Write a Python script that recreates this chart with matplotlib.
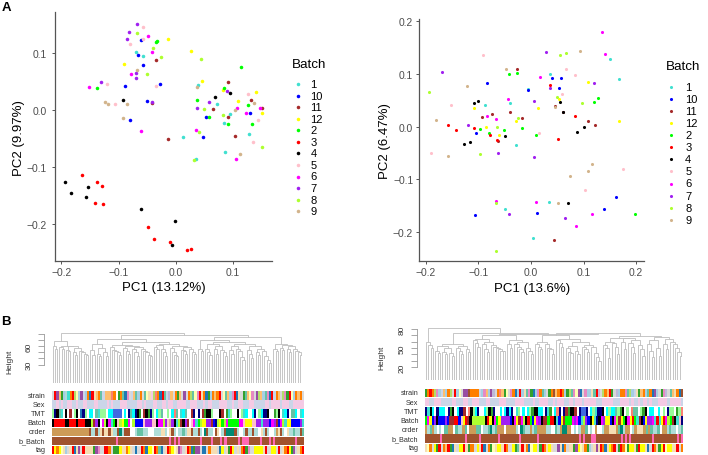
import matplotlib
matplotlib.use("Agg")
import matplotlib.pyplot as plt
from matplotlib.colors import ListedColormap

plt.rcParams["font.family"] = ["Liberation Sans", "DejaVu Sans"]

W, H = 708, 456

batches = ["1", "10", "11", "12", "2", "3", "4", "5", "6", "7", "8", "9"]
batch_colors = ["#40E0D0", "#0000FF", "#A52A2A", "#FFFF00", "#00FF00", "#FF0000",
                "#000000", "#FFC0CB", "#FF00FF", "#A020F0", "#ADFF2F", "#D2B48C"]

# PCA panel on the left, one list per batch
left_pc1 = [
    [-0.070, -0.057, 0.039, 0.072, 0.095, 0.085, 0.013, 0.128, 0.086, 0.035],
    [-0.066, -0.060, -0.058, -0.089, -0.027, -0.051, -0.080, 0.053, 0.048, 0.130],
    [-0.034, -0.041, 0.092, 0.132, 0.066, 0.092, 0.151, -0.013, 0.103],
    [-0.014, 0.026, -0.091, 0.046, 0.083, 0.140, 0.109, 0.151],
    [-0.035, -0.032, 0.115, -0.138, 0.085, 0.037, 0.126, 0.059, 0.092, 0.133],
    [-0.164, -0.138, -0.129, -0.142, -0.127, -0.049, -0.038, -0.010, 0.020, 0.026],
    [-0.193, -0.183, -0.154, -0.157, -0.061, -0.002, -0.007, -0.093, 0.069, 0.095],
    [-0.057, -0.080, -0.057, -0.121, -0.107, -0.035, 0.126, 0.144, 0.135],
    [-0.048, -0.041, -0.079, -0.152, -0.061, 0.035, 0.107, 0.123, 0.148, 0.106],
    [-0.067, -0.081, -0.086, -0.069, -0.070, -0.130, -0.041, 0.089, 0.059, 0.038],
    [-0.068, -0.039, -0.026, 0.045, -0.051, 0.050, 0.083, 0.040, 0.032, 0.151],
    [-0.068, -0.124, -0.119, -0.086, -0.093, 0.038, 0.103, 0.137, 0.113],
]
left_pc2 = [
    [0.102, 0.095, 0.044, 0.012, -0.006, -0.022, -0.046, -0.042, -0.073, -0.085],
    [0.098, 0.123, 0.080, 0.042, 0.046, 0.017, -0.016, -0.012, -0.046, -0.004],
    [0.089, 0.013, 0.049, 0.018, 0.003, -0.011, 0.004, -0.050, -0.045],
    [0.125, 0.105, 0.081, 0.051, 0.036, 0.032, 0.017, -0.005],
    [0.120, 0.121, 0.076, 0.039, 0.039, 0.019, 0.009, -0.012, -0.024, -0.023],
    [-0.114, -0.126, -0.132, -0.163, -0.164, -0.205, -0.225, -0.230, -0.244, -0.243],
    [-0.125, -0.145, -0.135, -0.152, -0.173, -0.194, -0.236, 0.018, 0.023, 0.030],
    [0.146, 0.117, 0.126, 0.047, 0.011, 0.042, 0.029, -0.016, -0.055],
    [0.130, 0.102, 0.064, 0.041, -0.036, -0.034, 0.004, -0.005, 0.004, -0.085],
    [0.152, 0.137, 0.126, 0.065, 0.057, 0.049, 0.015, 0.034, 0.015, 0.005],
    [0.135, 0.109, 0.093, 0.091, 0.064, 0.003, -0.008, -0.038, -0.087, -0.065],
    [0.070, 0.014, 0.011, 0.011, -0.013, 0.041, 0.000, 0.013, -0.077],
]

# PCA panel on the right
right_pc1 = [
    [0.036, 0.150, 0.168, -0.006, -0.088, -0.039, -0.028, 0.034, -0.049, 0.003],
    [-0.083, 0.040, 0.058, -0.006, 0.053, -0.104, -0.107, 0.012, 0.138, 0.161],
    [-0.026, -0.094, -0.075, -0.039, -0.018, 0.046, 0.061, 0.108, 0.121, -0.062, 0.044],
    [-0.108, 0.013, 0.108, 0.053, -0.029, -0.086, -0.060, 0.167],
    [-0.042, -0.027, 0.127, 0.120, -0.017, -0.051, -0.096, -0.079, 0.010, 0.197],
    [0.037, 0.084, -0.157, -0.143, -0.108, -0.077, -0.064, 0.052],
    [-0.109, -0.101, -0.128, -0.116, -0.049, 0.056, 0.061, 0.101, 0.088, 0.071],
    [-0.092, 0.067, 0.083, 0.059, -0.153, -0.190, 0.016, 0.176, 0.102],
    [0.136, 0.141, 0.018, -0.044, -0.084, -0.066, -0.067, 0.010, 0.117, 0.086],
    [-0.169, 0.028, 0.119, 0.037, 0.005, -0.120, -0.062, 0.005, -0.042, 0.065],
    [-0.193, 0.055, 0.067, 0.049, 0.098, -0.024, -0.065, -0.096, -0.067, -0.067],
    [-0.048, 0.093, -0.122, -0.181, -0.158, 0.046, 0.116, 0.109, 0.074, 0.051],
]
right_pc2 = [
    [0.099, 0.129, 0.090, 0.072, 0.041, 0.044, -0.035, -0.143, -0.156, -0.211],
    [0.083, 0.093, 0.093, 0.070, 0.073, -0.012, -0.168, -0.165, -0.156, -0.133],
    [0.109, 0.018, 0.024, 0.027, 0.016, 0.038, 0.028, 0.011, 0.003, -0.028, -0.215],
    [0.036, 0.035, 0.085, 0.052, 0.011, -0.001, -0.016, 0.010],
    [0.100, 0.101, 0.054, 0.046, -0.002, -0.007, -0.004, -0.013, -0.017, -0.166],
    [0.079, 0.020, 0.003, -0.007, -0.003, -0.017, -0.025, -0.023],
    [0.044, 0.049, -0.034, -0.030, -0.018, 0.046, 0.028, 0.000, -0.011, -0.146],
    [0.135, 0.109, 0.097, 0.061, 0.040, -0.051, -0.012, -0.080, -0.120],
    [0.180, 0.137, 0.094, 0.052, 0.020, 0.015, -0.141, -0.144, -0.166, -0.188],
    [0.103, 0.142, 0.082, 0.074, 0.048, 0.002, -0.051, -0.057, -0.166, -0.174],
    [0.065, 0.135, 0.140, 0.056, 0.045, 0.016, -0.001, -0.053, -0.146, -0.236],
    [0.110, 0.144, 0.077, 0.012, -0.055, 0.037, -0.072, -0.085, -0.094, -0.146],
]

# Dendrograms: (height, left, right), a plain list is a staircase of merges
left_tree = (82,
    (69, [60, 56], (61, [58, 55], (60, [54, 52], (57, [50, 46], [52, 50, 47, 45])))),
    (78,
        (72,
            (64, [53, 45], (57, [48, 44], [50, 44])),
            (67,
                (62, [58, 54, 52, 50, 45], (60, [57, 52, 48], (58, [55, 50, 44], [56, 52, 50, 46, 44]))),
                (63, (62, [59, 56], [56, 50, 44]), (60, [57, 50, 46, 44], (58, [54, 52, 48], [55, 50, 47]))))),
        (75,
            (70, [55, 52], (66,
                (63, [55, 50, 46], (60, [55, 47], [54, 50, 44])),
                (64, (61, [53, 48], [56, 52, 42, 38]), (60, [54, 47, 40], (56, [50, 46], [52, 44, 38, 32]))))),
            (64, [56, 52], (62, [57, 54], (60, [55, 50], [56, 52, 50, 46]))))))

right_tree = (81,
    [60, 55, 50],
    (74,
        (56, (54, [46, 42], (50, [44, 40], [42, 38])), (53, [50, 46, 40], [48, 44])),
        (72,
            (70, (64, [62, 58, 52], (60, [56, 48, 44], [55, 52, 50, 48, 46, 45])),
                 (63, [57, 50], (60, [56, 52, 48, 44], [50, 46, 40]))),
            (73,
                (70, (60, [57, 52, 48], [56, 50, 48, 40]),
                     (64, [62, 58, 52], (60, (54, [50, 44, 42], [46, 40]), (55, [52, 48, 44], [52, 42, 36, 30])))),
                (69, (66, (60, [55, 50, 35], [58, 52, 40]), (65, [60, 48], (62, [58, 52, 42], [55, 48, 38]))),
                     (67, (62, [56, 46, 36], [50, 38]), (64, [56, 48], [60, 56, 50, 44, 38])))))))

# Annotation bars, one letter per sample
palette = {
    "r": "#FF0000", "k": "#000000", "b": "#0000FF", "g": "#00FF00", "y": "#FFFF00",
    "m": "#FF00FF", "p": "#A020F0", "l": "#ADFF2F", "t": "#40E0D0", "n": "#D2B48C",
    "d": "#A52A2A", "i": "#FFC0CB", "w": "#FFFFFF", "c": "#00FFFF", "N": "#000080",
    "B": "#4169E1", "s": "#A0522D", "h": "#FF69B4", "o": "#CD9B57", "E": "#008B74",
    "a": "#AFDDD8", "f": "#F5DEB3", "S": "#CBD5E8", "P": "#F4CAE4", "O": "#FF7F00",
    "G": "#33A02C", "M": "#66C2A5", "L": "#98FB98", "Q": "#1F78B4", "R": "#984EA3",
    "V": "#BEBADA", "U": "#FB8072", "W": "#FDBF6F", "q": "#FFFFB3", "j": "#A6CEE3",
    "u": "#B3DE69", "v": "#E78AC3", "x": "#D9D9D9",
}
row_names = ["strain", "Sex", "TMT", "Batch", "order", "b_Batch", "tag"]

left_rows = [
    "xrRWGjatOruqjRSjOQrfWOMSWWWUOwGOMQvxSWMjOxMqfPuUOQrMSVWxOG" + "WxRxOuMqvrfOQGjOWOrxqMWjvrQfxGMWqvxRuWjMvQrSOWxuvGrqjOWOx",
    "SSPSPSSPPSSPSSPPSSSPPSSSSPSPSSSPPPSSSSSPPSPSSSPPSSPPSPPSSP" + "PPPSSPPPSSSPSPPSSSPPPPSSPSSPPSSSPPSSSSSPPSPPPPSPPPSSPPPPP",
    "LNkMtwkwdwLkwQNLwccwMtLLLwccBBBBwcwNMcNkGwdkGNLwcLMwwLwcUMw" + "tcMwwdNwNwdGkkLwwwkdwGtLwwkwLtcwwcNwLcNNkwwGLkwtcNwMMcwtc",
    "krrrrrkkrrrkrrrkkkldpkwmlkmtgkilyggmwlbbbbipppiikmmlpinpkt" + "ldkpdwimtglyyppdbNlyglmgggggmmiyyyiipptpppbmpdbmltyybbbbpt",
    "ooooooooooooooooosaasafsffsfaasEassswwaMMMaawwwaaaffawfsaw" + "aaMaffsaasawEsaawsfwasEEEEsawwasaasaawfasawwaofsawfaaMaasM",
    "s" * 29 + "h" + "s" * 23 + "h" + "s" + "h" + "s" + "h" + "s" * 9 + "h" + "s" * 4 + "h" + "s" * 3 + "h" + "s" + "h"
    + "s" * 5 + "h" + "s" + "hhh" + "s" * 5 + "h" + "s" * 3 + "h" + "s" + "h" + "s" * 9 + "h" + "s" * 3,
    "ryOyqfjxfrQfRxrffffGRvxxrrOxGGGyffOyfxQxxrOQyyqrOMQxfrOyqf" + "RvxfrOQGRRxQQxOfffxQyxfGryxfxOrGvxxyyyyfrxxyyxrxfOryGRxfOr",
]
right_rows = [
    "GOrOuvjSWjOuxrjqxRRsOOOOSjvWjRVxOUWGqxvOQjrjfMvGQjvOMjxGOs" + "WOrOjGuMvqRQxvjjfMrVxuOWrGxVjOOvMujSfGWOjMOQRjxGvVxMWfOQs",
    "PPSSPPPSSSSSPPSSSPPSSPPPSSSPPSSSSPPPSSSSPPPPSSSSPSSPPPPSSP" + "SPPPSSPPSPPPSPPPPPSSSPPPPPSSSPPPPSPSSPSPPSPSSSPPPPSPPPPPS",
    "NtkcwNcccwNGkwcNNdwUkLcNwwcLkGNwwcwcNcNwtLwcwcLGkkccwNtGwcU" + "NwNdGkkdwNBBNwcLtNNkwcLccMLGkwLwUMMwLGkwccwwcwLwNLLwGLU",
    "gmybpkbbbpbddrrbiyrdkllllllkrykmgyppppbkmydmlkrgbympkddgrrk" + "tbydgggmpmbtlpbkytNkmpyybkmldygkmyrgtdkbyppmtrtyrmlgdktiN",
    "oaMoawawMMoowMaaoMwoooMMwaaMEaMooowooooawEMaaoaMooooaawwM" + "aoEEoowawaooMwawowwaoofffoMEaoowaofffoMoMaaMwooaMaawaM",
    "s" * 7 + "h" + "s" * 11 + "h" + "s" * 6 + "h" + "s" * 8 + "h" + "s" * 9 + "h" + "s" * 8 + "h" + "s" * 19
    + "h" + "s" + "h" + "s" * 3 + "hh" + "s" * 12 + "h" + "s" + "h" + "s" + "h" + "s" * 10 + "h" + "s" * 11 + "h" + "s" + "h",
    "fqOxyGrxOWrGQfxyyrfGOOxyfrQxOGqfyyfrOxxyGMfrfOQqyyxGrOfyfx" + "xRfQOxffGRyqfOGjxfRfrOQfyOrxGrOqGyyfGryyfQxrOfGyrqyyffrxO",
]

letters = list(palette)
bar_cmap = ListedColormap([palette[c] for c in letters])


def add_px_axes(x0, y0, x1, y1):
    return fig.add_axes([x0 / W, 1 - y1 / H, (x1 - x0) / W, (y1 - y0) / H])


def pca_panel(box, pc1, pc2, xlim, ylim, xlab, ylab, size, xticks, yticks, title_xy, leg_xy, spacing, ypad, textpad):
    ax = add_px_axes(*box)
    for i, b in enumerate(batches):
        ax.scatter(pc1[i], pc2[i], s=size, color=batch_colors[i], label=b, linewidths=0, zorder=3)
    ax.set_xlim(xlim)
    ax.set_ylim(ylim)
    ax.set_xticks(xticks)
    ax.set_yticks(yticks)
    ax.set_xticklabels([f"{t:.1f}".replace("-", "\u2212") for t in xticks])
    ax.set_yticklabels([f"{t:.1f}".replace("-", "\u2212") for t in yticks])
    ax.tick_params(labelsize=7.4, labelcolor="#4d4d4d", color="#555555", length=2.4, width=0.7)
    ax.tick_params(axis="x", pad=2)
    ax.tick_params(axis="y", pad=ypad)
    ax.set_xlabel(xlab, fontsize=9.5, labelpad=3)
    ax.set_ylabel(ylab, fontsize=9.5, labelpad=1.5)
    for side in ["top", "right"]:
        ax.spines[side].set_visible(False)
    for side in ["left", "bottom"]:
        ax.spines[side].set_color("#555555")
        ax.spines[side].set_linewidth(0.9)
    fig.text(title_xy[0] / W, 1 - title_xy[1] / H, "Batch", fontsize=9.6, ha="left", va="center")
    ax.legend(loc="upper left", bbox_to_anchor=(leg_xy[0] / W, 1 - leg_xy[1] / H), bbox_transform=fig.transFigure,
              frameon=False, fontsize=8, borderpad=0, borderaxespad=0, labelspacing=spacing,
              handletextpad=textpad, handlelength=1.45)
    return ax


def draw_node(ax, node, start):
    # returns x position, height and number of leaves used
    if node == 0:
        return start, 0, 1
    if isinstance(node, list):
        if len(node) == 1:
            node = (node[0], 0, 0)
        else:
            node = (node[0], 0, node[1:])
    h, a, b = node
    xa, ha, na = draw_node(ax, a, start)
    xb, hb, nb = draw_node(ax, b, start + na)
    ax.plot([xa, xa, xb, xb], [ha, h, h, hb], color="#c2c2c2", lw=0.65, solid_joinstyle="miter")
    return (xa + xb) / 2, h, na + nb


def count_leaves(node):
    if node == 0:
        return 1
    if isinstance(node, list):
        return len(node) + 1
    return count_leaves(node[1]) + count_leaves(node[2])


def dendro(tree, box, top, axis_out, ticks, labels, height_x, height_y):
    ax = add_px_axes(*box)
    draw_node(ax, tree, 0)
    for side in ["top", "right", "bottom"]:
        ax.spines[side].set_visible(False)
    # spine position resets the ticks, so it goes before them
    ax.spines["left"].set_position(("outward", axis_out))
    ax.spines["left"].set_bounds(ticks[0], ticks[-1])
    ax.spines["left"].set_color("#999999")
    ax.spines["left"].set_linewidth(0.6)
    ax.set_xlim(0, count_leaves(tree) - 1)
    ax.set_ylim(0, top)
    ax.set_xticks([])
    ax.set_yticks(ticks)
    ax.set_yticklabels(labels, rotation=90, va="center", fontsize=6, color="#333333")
    ax.tick_params(axis="y", length=4, width=0.6, color="#999999", pad=4)
    ax.patch.set_alpha(0)
    fig.text(height_x / W, 1 - height_y / H, "Height", rotation=90, fontsize=6, color="#333333",
             ha="center", va="center")


def bars(rows, x0, x1, y0, y1, label_x):
    row_h = (y1 - y0) / len(rows)
    for i, row in enumerate(rows):
        ax = add_px_axes(x0, y0 + i * row_h + 0.3, x1, y0 + (i + 1) * row_h - 0.3)
        ax.imshow([[letters.index(c) for c in row]], aspect="auto", interpolation="nearest",
                  cmap=bar_cmap, vmin=-0.5, vmax=len(letters) - 0.5)
        ax.axis("off")
        fig.text(label_x / W, 1 - (y0 + (i + 0.5) * row_h) / H, row_names[i], fontsize=5.2,
                 color="#333333", ha="right", va="center")


fig = plt.figure(figsize=(W / 100, H / 100), dpi=100)

pca_panel((55.3, 13.3, 271.7, 262), left_pc1, left_pc2, (-0.2107, 0.168), (-0.264, 0.172),
          "PC1 (13.12%)", "PC2 (9.97%)", 6.5, [-0.2, -0.1, 0.0, 0.1], [-0.2, -0.1, 0.0, 0.1],
          (292, 65), (289.8, 80), 0.14, 3.5, 0.4)
pca_panel((419.3, 20, 644, 262.3), right_pc1, right_pc2, (-0.2124, 0.215), (-0.2557, 0.204),
          "PC1 (13.6%)", "PC2 (6.47%)", 5, [-0.2, -0.1, 0.0, 0.1, 0.2], [-0.2, -0.1, 0.0, 0.1, 0.2],
          (666, 67.5), (663, 83), 0.185, 2, 0.55)

dendro(left_tree, (52.7, 333, 302, 384), 83, 6.3, [30, 40, 50, 60, 70, 80],
       ["30", "", "", "60", "", ""], 10, 362)
dendro(right_tree, (426, 328, 682, 381), 83, 6.6, [20, 30, 40, 50, 60, 70, 80],
       ["20", "", "", "50", "", "", "80"], 382, 358)

bars(left_rows, 52, 303.5, 392, 455.5, 45.5)
bars(right_rows, 425, 683, 389.3, 453.5, 418.5)

fig.text(2 / W, 1 - 8 / H, "A", fontsize=9.5, fontweight="bold", ha="left", va="center")
fig.text(1 / W, 1 - 322 / H, "B", fontsize=9.5, fontweight="bold", ha="left", va="center")

fig.savefig("out.png", dpi=100)
